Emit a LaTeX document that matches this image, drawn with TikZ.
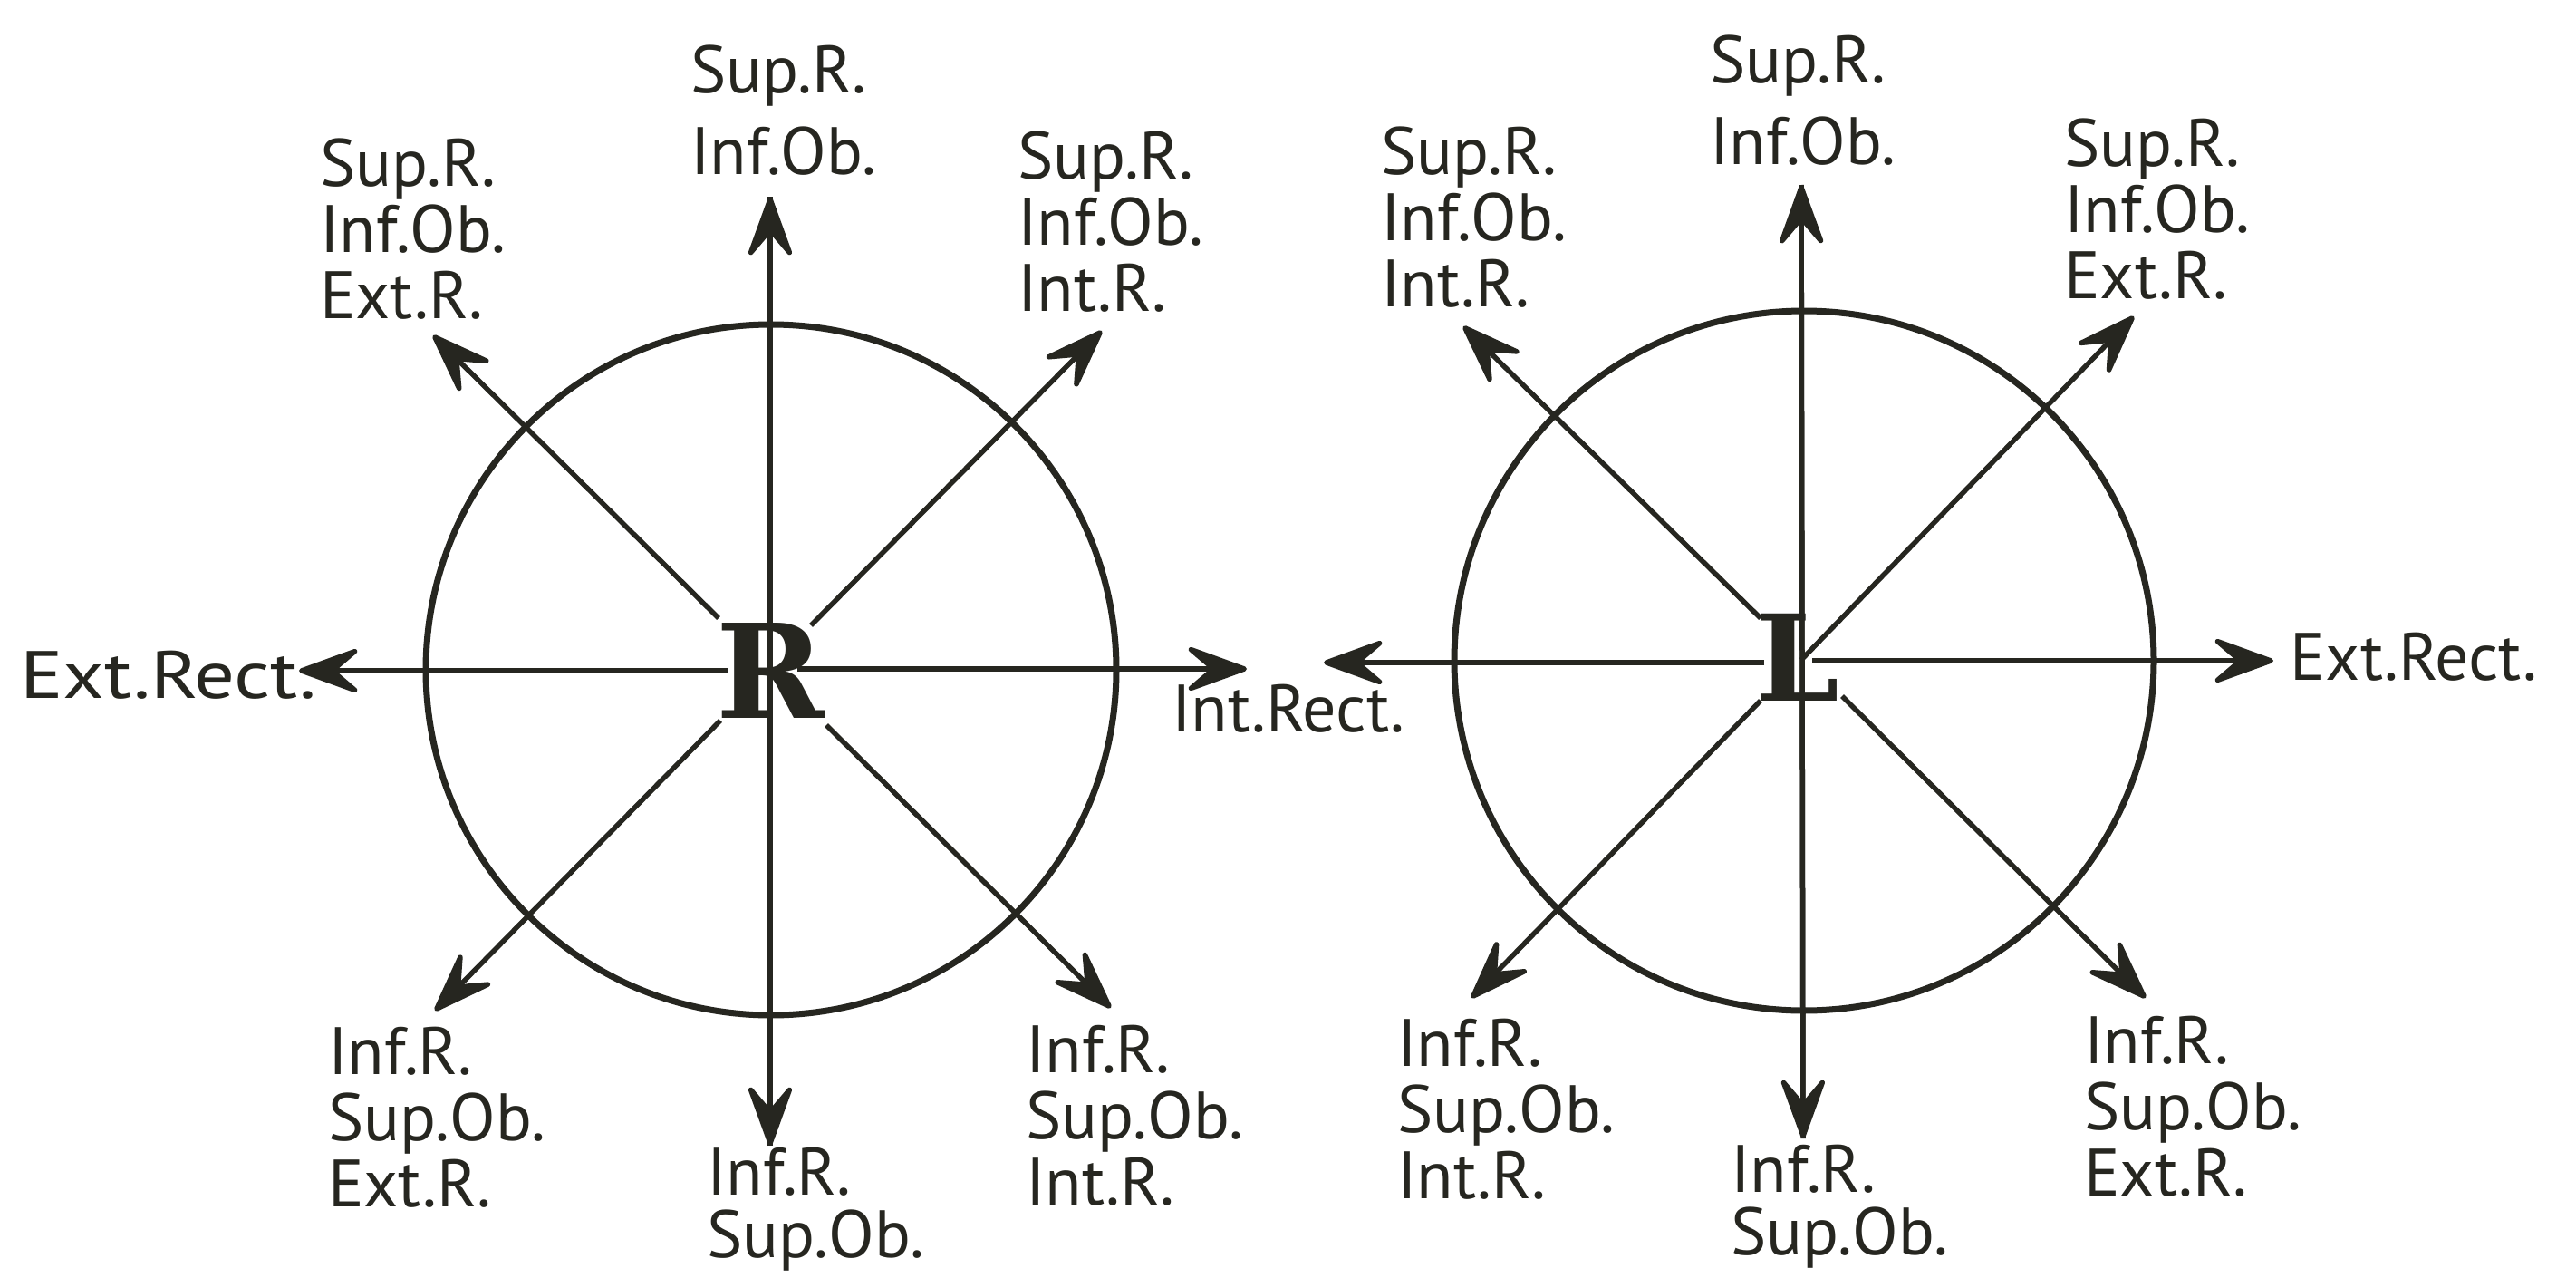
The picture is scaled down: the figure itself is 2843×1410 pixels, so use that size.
\documentclass[tikz,border=0pt]{standalone}
\usepackage{fontspec}
\setmainfont{PT Sans}
\newfontfamily\letterfont{DejaVu Serif}
\usetikzlibrary{arrows.meta}
\definecolor{ink}{RGB}{38,38,32}
\begin{document}
\begin{tikzpicture}[x=1pt,y=-1pt,
  ray/.style={draw=ink, line width=5.5pt, -{Stealth[length=80pt,width=58pt,inset=34pt,round]}},
  ring/.style={draw=ink, line width=7pt},
  lbl/.style={inner sep=0pt, text=ink, align=left, anchor=north west, font=\fontsize{74}{73}\selectfont},
  lbltop/.style={lbl, font=\fontsize{74}{90}\selectfont},
  lblbot/.style={lbl, font=\fontsize{74}{69}\selectfont},
  lblone/.style={inner sep=0pt, text=ink, anchor=base west, font=\fontsize{74}{73}\selectfont},
  bigletter/.style={inner sep=0pt, text=ink, font=\letterfont\bfseries\fontsize{#1}{#1}\selectfont}
]
\fill[white] (0,0) rectangle (2843,1410);
\useasboundingbox (0,0) rectangle (2843,1410);

% ---------------- left figure ----------------
\coordinate (c1) at (851,739);
\draw[ring] (c1) circle[radius=381pt];
\coordinate (l-n) at (850,217);
\coordinate (l-s) at (850,1264);
\coordinate (l-w) at (330,740);
\coordinate (l-ws) at (803,740);
\coordinate (l-e) at (1376,738);
\coordinate (l-es) at (880,738);
\coordinate (l-nw) at (478,370);
\coordinate (l-nws) at (793,682);
\coordinate (l-ne) at (1216,365);
\coordinate (l-nes) at (895,690);
\coordinate (l-sw) at (480,1115);
\coordinate (l-sws) at (795,795);
\coordinate (l-se) at (1226,1112);
\coordinate (l-ses) at (912,800);

\draw[ray] (l-s) -- (l-n);
\draw[ray] (l-n) -- (l-s);
\draw[ray] (l-ws) -- (l-w);
\draw[ray] (l-es) -- (l-e);
\draw[ray] (l-nws) -- (l-nw);
\draw[ray] (l-nes) -- (l-ne);
\draw[ray] (l-sws) -- (l-sw);
\draw[ray] (l-ses) -- (l-se);

\node[bigletter=144] (letterR) at (850,740) {R};

\node[lbltop] (l-top) at (762,50) {Sup.R.\\Inf.Ob.};
\node[lbl] (l-nwlab) at (353,153) {Sup.R.\\Inf.Ob.\\Ext.R.};
\node[lbl] (l-nelab) at (1123,145) {Sup.R.\\Inf.Ob.\\Int.R.};
\node[lblone] (l-wlab) at (22,770) {\scalebox{1.2}[1]{Ext.Rect.}};
\node[lblone] (mid-lab) at (1293,807) {Int.Rect.};
\node[lbl] (l-swlab) at (362,1133) {Inf.R.\\Sup.Ob.\\Ext.R.};
\node[lblbot] (l-bot) at (780,1266) {Inf.R.\\Sup.Ob.};
\node[lbl] (l-selab) at (1132,1131) {Inf.R.\\Sup.Ob.\\Int.R.};

% ---------------- right figure ----------------
\coordinate (c2) at (1991,729);
\draw[ring] (c2) circle[radius=386pt];
\coordinate (r-n) at (1988,204);
\coordinate (r-s) at (1990,1256);
\coordinate (r-w) at (1461,731);
\coordinate (r-ws) at (1947,731);
\coordinate (r-e) at (2509,729);
\coordinate (r-es) at (2000,729);
\coordinate (r-nw) at (1615,360);
\coordinate (r-nws) at (1943,682);
\coordinate (r-ne) at (2355,349);
\coordinate (r-nes) at (1988,728);
\coordinate (r-sw) at (1624,1101);
\coordinate (r-sws) at (1943,773);
\coordinate (r-se) at (2368,1101);
\coordinate (r-ses) at (2033,768);

\draw[ray] (r-s) -- (r-n);
\draw[ray] (r-n) -- (r-s);
\draw[ray] (r-ws) -- (r-w);
\draw[ray] (r-es) -- (r-e);
\draw[ray] (r-nws) -- (r-nw);
\draw[ray] (r-nes) -- (r-ne);
\draw[ray] (r-sws) -- (r-sw);
\draw[ray] (r-ses) -- (r-se);

\node[bigletter=132] (letterL) at (1984,725) {L};

\node[lbltop] (r-top) at (1887,39) {Sup.R.\\Inf.Ob.};
\node[lbl] (r-nwlab) at (1524,140) {Sup.R.\\Inf.Ob.\\Int.R.};
\node[lbl] (r-nelab) at (2278,131) {Sup.R.\\Inf.Ob.\\Ext.R.};
\node[lblone] (r-elab) at (2527,750) {Ext.Rect.};
\node[lbl] (r-swlab) at (1542,1124) {Inf.R.\\Sup.Ob.\\Int.R.};
\node[lblbot] (r-bot) at (1910,1263) {Inf.R.\\Sup.Ob.};
\node[lbl] (r-selab) at (2300,1121) {Inf.R.\\Sup.Ob.\\Ext.R.};
\end{tikzpicture}
\end{document}
